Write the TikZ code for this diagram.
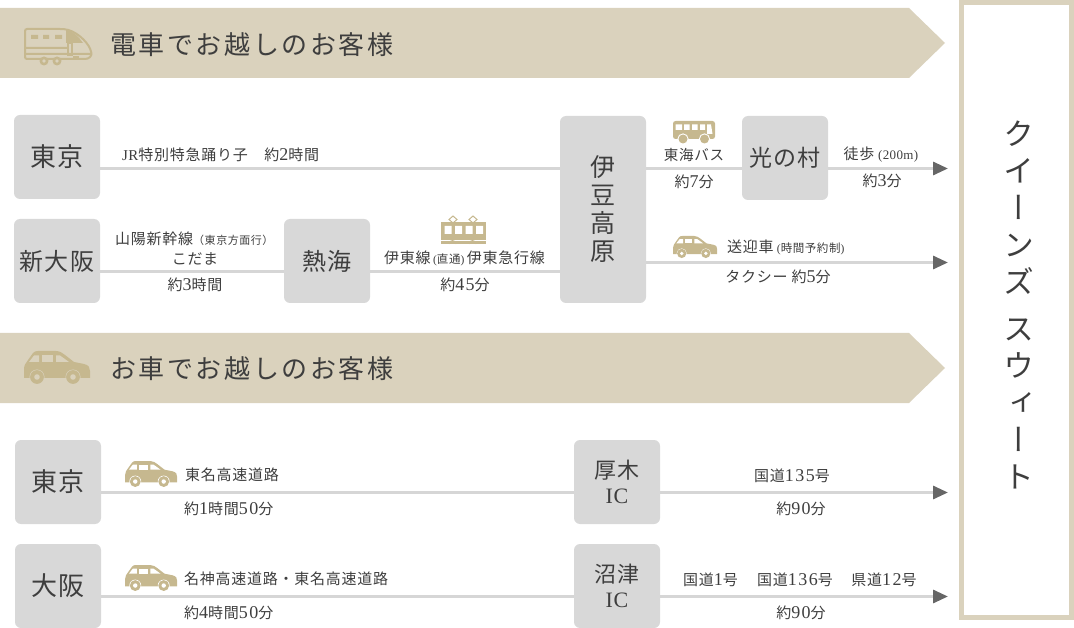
\documentclass[tikz,border=0pt]{standalone}
\usepackage{fontspec}
\setmainfont[LetterSpace=5]{Noto Sans CJK JP}
\newfontfamily\latfont[LetterSpace=3]{Liberation Serif}
\newfontfamily\digfont[LetterSpace=8,Scale=1.2]{Liberation Serif}
\newfontfamily\widefont[LetterSpace=10]{Noto Sans CJK JP}
\newfontfamily\vertfont[RawFeature=+vert]{Noto Sans CJK JP}
\newcommand{\lat}[1]{{\latfont #1}}
\newcommand{\dig}[1]{{\digfont #1}}
\definecolor{BannerTan}{HTML}{DAD2BD}
\definecolor{IconTan}{HTML}{C6B88F}
\definecolor{BoxGray}{HTML}{D8D8D8}
\definecolor{LineGray}{HTML}{D6D6D6}
\definecolor{TipGray}{HTML}{666666}
\definecolor{InkGray}{HTML}{3E3E3E}
\usetikzlibrary{arrows.meta}
\tikzset{
	stationbox/.style={fill=BoxGray,rounded corners=6,minimum width=86,minimum height=84,inner sep=0,text=InkGray,align=center,font=\fontsize{26}{28}\selectfont},
	routeline/.style={draw=LineGray,line width=3},
	goalline/.style={routeline,-{Triangle[length=15pt,width=13pt,color=TipGray]}},
	label/.style={inner sep=0,text=InkGray,font=\fontsize{15}{17}\selectfont},
	smalllabel/.style={label,anchor=west},
	headlabel/.style={anchor=west,inner sep=0,text=InkGray,font=\widefont\fontsize{26}{28}\selectfont},
	pics/caricon/.style={code={
		\fill[IconTan] (0,27) -- (0,18) .. controls (0,14) and (2,12) .. (4,9) -- (9,2) .. controls (10,0.5) and (12,0) .. (14,0) -- (32,0) .. controls (36,0) and (38,2) .. (41,4) -- (50,11) -- (60,13) .. controls (65,14) and (66,17) .. (66,20) -- (66,27) -- cycle;
		\fill[#1] (13,26) circle (7.5) (49,26) circle (7.5);
		\fill[IconTan] (13,26) circle (6.9) (49,26) circle (6.9);
		\fill[#1] (13,26) circle (2.8) (49,26) circle (2.8);
		\fill[#1] (5,11) -- (10,4.5) -- (15,4.5) -- (15,11) -- cycle;
		\fill[#1] (18,4.5) rectangle (29,11);
		\fill[#1] (32,4.5) -- (36,4.5) -- (45,11) -- (32,11) -- cycle;
	}},
	pics/trainicon/.style={code={
		\draw[IconTan,line width=2,rounded corners=2] (0,0) -- (37,0) .. controls (50,1) and (62,12) .. (66,22) .. controls (67,27) and (64,30) .. (58,30) -- (0,30) -- cycle;
		\fill[IconTan] (6,6) rectangle (13,10) (18,6) rectangle (24,10) (30,6) rectangle (37,10);
		\fill[IconTan] (41,1) .. controls (48,2) and (54,8) .. (58,14) -- (41,14) -- cycle;
		\fill[IconTan] (0,18) rectangle (43,20) (0,24) rectangle (66,26);
		\draw[IconTan,line width=1.2] (43,14) rectangle (47,26);
		\fill[IconTan] (48,27.5) rectangle (54,29);
		\fill[IconTan] (19,32) circle (4.5) (32,32) circle (4.5);
		\fill[BannerTan] (19,32) circle (1.8) (32,32) circle (1.8);
	}},
	pics/busicon/.style={code={
		\fill[IconTan,rounded corners=2.5] (0,0) rectangle (42,18);
		\fill[white] (10,18) circle (5.6) (31.5,18) circle (5.6) (0,18.6) rectangle (42,23);
		\fill[IconTan] (10,18) circle (4.5) (31.5,18) circle (4.5);
		\fill[white] (2.5,3.5) rectangle (9,9) (11,3.5) rectangle (16.5,9) (19,3.5) rectangle (24.5,9) (27,3.5) rectangle (32,9);
		\fill[white] (34,3.5) -- (38,3.5) -- (39.5,13) -- (34,13) -- cycle;
	}},
	pics/tramicon/.style={code={
		\draw[IconTan,line width=1] (12,0) -- (16,3.5) -- (12,7) -- (8,3.5) -- cycle (32,0) -- (36,3.5) -- (32,7) -- (28,3.5) -- cycle;
		\fill[IconTan] (0,6) rectangle (45,24);
		\fill[white] (3.5,10) rectangle (10.5,18) (14,10) rectangle (21,18) (24.5,10) rectangle (31.5,18) (35,10) rectangle (42,18);
		\fill[IconTan] (0,25) rectangle (45,28);
		\draw[IconTan,line width=.9] (8,28) arc[start angle=180,end angle=360,radius=3.5] (28,28) arc[start angle=180,end angle=360,radius=3.5];
	}}
}
\begin{document}
\begin{tikzpicture}[x=1pt,y=-1pt]
	\useasboundingbox (0,0) rectangle (1074,628);
	
	% banners and frame
	\fill[BannerTan] (0,8) -- (909,8) -- (945,43) -- (909,78) -- (0,78) -- cycle;
	\fill[BannerTan] (0,333) -- (909,333) -- (945,368) -- (909,403) -- (0,403) -- cycle;
	\draw[BannerTan,line width=5] (961.5,2.5) rectangle (1071.5,617.5);
	\pic at (25,29) {trainicon};
	\pic at (24,351) {caricon=BannerTan};
	\node[headlabel] (trainhead) at (110,45) {電車でお越しのお客様};
	\node[headlabel] (carhead) at (110,369) {お車でお越しのお客様};
	\node[inner sep=0,text=InkGray,align=center,font=\vertfont\fontsize{31}{37}\selectfont] (hotel) at (1019,305) {ク\\イ\\ー\\ン\\ズ\\[10pt]ス\\ウ\\ィ\\ー\\ト};
	
	% stations
	\node[stationbox] (tokyoA) at (57,157) {東京};
	\node[stationbox,font=\fontsize{24}{28}\selectfont] (osakaA) at (57,261) {新大阪};
	\node[stationbox,font=\fontsize{24}{28}\selectfont] (atami) at (327,261) {熱海};
	\node[stationbox,minimum height=187,font=\fontsize{25}{28}\selectfont] (izu) at (603,209.5) {伊\\豆\\高\\原};
	\node[stationbox,font=\fontsize{23}{28}\selectfont] (hikari) at (785,158) {光の村};
	\node[stationbox] (tokyoB) at (58,482) {東京};
	\node[stationbox] (osakaB) at (58,586) {大阪};
	\node[stationbox,font=\fontsize{22}{25}\selectfont] (atsugi) at (617,482) {厚木\\\lat{IC}};
	\node[stationbox,font=\fontsize{22}{25}\selectfont] (numazu) at (617,586) {沼津\\\lat{IC}};
	
	% routes
	\coordinate (rowA) at (0,168.5);
	\coordinate (rowB) at (0,272);
	\coordinate (rowC) at (0,262.5);
	\coordinate (rowD) at (0,492.5);
	\coordinate (rowE) at (0,596.5);
	\coordinate (goalA) at (948,168.5);
	\coordinate (goalB) at (948,262.5);
	\coordinate (goalC) at (948,492.5);
	\coordinate (goalD) at (948,596.5);
	\draw[routeline] (tokyoA.east |- rowA) -- (izu.west |- rowA);
	\draw[routeline] (izu.east |- rowA) -- (hikari.west |- rowA);
	\draw[goalline] (hikari.east |- rowA) -- (goalA);
	\draw[routeline] (osakaA.east |- rowB) -- (atami.west |- rowB);
	\draw[routeline] (atami.east |- rowB) -- (izu.west |- rowB);
	\draw[goalline] (izu.east |- rowC) -- (goalB);
	\draw[routeline] (tokyoB.east |- rowD) -- (atsugi.west |- rowD);
	\draw[goalline] (atsugi.east |- rowD) -- (goalC);
	\draw[routeline] (osakaB.east |- rowE) -- (numazu.west |- rowE);
	\draw[goalline] (numazu.east |- rowE) -- (goalD);
	
	% icons
	\pic at (673,121) {busicon};
	\pic[scale=.67] at (673,236) {caricon=white};
	\pic at (441,216) {tramicon};
	\pic[scale=.79] at (125,461) {caricon=white};
	\pic[scale=.79] at (125,565) {caricon=white};
	
	% labels, train
	\node[smalllabel] (limited) at (122,155) {\lat{JR}特別特急踊り子　約\dig{2}時間};
	\node[smalllabel] (sanyo) at (115,239) {山陽新幹線{\fontsize{11}{13}\selectfont （東京方面行）}};
	\node[label] (kodama) at (195,259) {こだま};
	\node[label] (timeA) at (195,285) {約\dig{3}時間};
	\node[label] (itoline) at (464.5,258) {伊東線\,{\fontsize{11.5}{13}\selectfont\lat{(}直通\lat{)}}\,伊東急行線};
	\node[label] (timeB) at (465,285) {約\dig{45}分};
	\node[label,font=\fontsize{14.5}{17}\selectfont] (busline) at (694,155) {東海バス};
	\node[label] (timeC) at (694,182) {約\dig{7}分};
	\node[label] (walk) at (881,155) {徒歩{\fontsize{13}{15}\selectfont\lat{ (200m)}}};
	\node[label] (timeD) at (882,181) {約\dig{3}分};
	\node[smalllabel] (shuttle) at (727,247) {送迎車{\fontsize{11.5}{13}\selectfont\lat{ (}時間予約制\lat{)}}};
	\node[label] (taxi) at (778,277) {タクシー 約\dig{5}分};
	
	% labels, car
	\node[smalllabel] (tomei) at (185,475) {東名高速道路};
	\node[smalllabel] (timeE) at (184,509) {約\dig{1}時間\dig{50}分};
	\node[label] (route135) at (792,476) {国道\dig{135}号};
	\node[label] (timeF) at (801,509) {約\dig{90}分};
	\node[smalllabel] (meishin) at (184,579) {名神高速道路・東名高速道路};
	\node[smalllabel] (timeG) at (184,613) {約\dig{4}時間\dig{50}分};
	\node[label] (route1) at (710.5,580) {国道\dig{1}号};
	\node[label] (route136) at (795,580) {国道\dig{136}号};
	\node[label] (route12) at (884,580) {県道\dig{12}号};
	\node[label] (timeH) at (801,613) {約\dig{90}分};
\end{tikzpicture}
\end{document}
